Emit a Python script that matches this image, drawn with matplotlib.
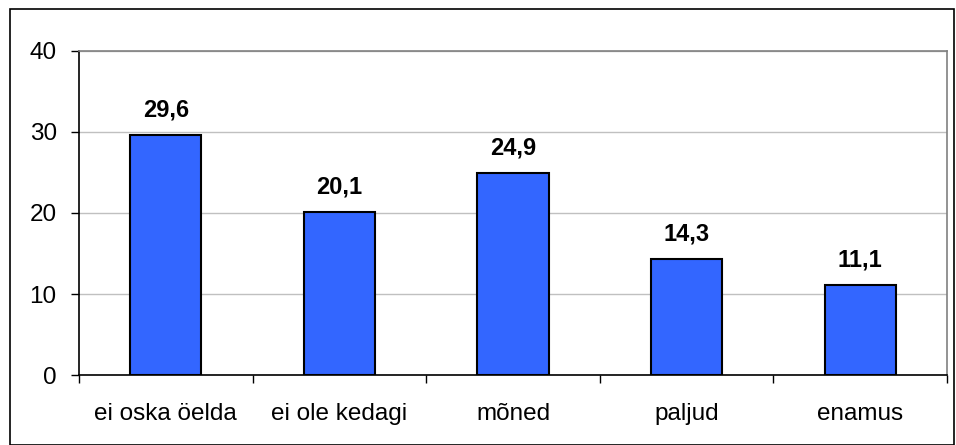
import matplotlib
matplotlib.use("Agg")
import matplotlib.pyplot as plt
from matplotlib.patches import Rectangle

categories = ["ei oska öelda", "ei ole kedagi", "mõned", "paljud", "enamus"]
values = [29.6, 20.1, 24.9, 14.3, 11.1]
value_labels = ["29,6", "20,1", "24,9", "14,3", "11,1"]
yticks = [0, 10, 20, 30, 40]

plt.rcParams['font.family'] = ['Liberation Sans', 'DejaVu Sans']

fig = plt.figure(figsize=(9.56, 4.45), dpi=100)
ax = fig.add_axes([0.0826, 0.1573, 0.9081, 0.7281])

x = list(range(len(categories)))
ax.bar(x, values, width=0.41, color="#3366FF", edgecolor="black", linewidth=1.5, zorder=3)
for xi, v, lab in zip(x, values, value_labels):
    ax.text(xi, v + 1.7, lab, ha="center", va="bottom", fontsize=17, fontweight="bold")

ax.set_xlim(-0.5, len(categories) - 0.5)
ax.set_ylim(0, 40)
ax.set_yticks(yticks)
ax.set_yticklabels([str(t) for t in yticks], fontsize=17.5)
ax.yaxis.grid(True, color="#c0c0c0", linewidth=1, zorder=0)
ax.set_axisbelow(True)

ax.set_xticks(x)
ax.set_xticklabels(categories, fontsize=17.5)
ax.tick_params(axis="x", length=0, pad=20)
ax.set_xticks([i - 0.5 for i in range(len(categories) + 1)], minor=True)
ax.tick_params(axis="x", which="minor", length=6, width=1, color="black", direction="out")
ax.tick_params(axis="y", length=6, width=1, direction="out", pad=10)

ax.spines["left"].set_color("black")
ax.spines["bottom"].set_color("black")
ax.spines["left"].set_linewidth(1.2)
ax.spines["bottom"].set_linewidth(1.2)
ax.spines["top"].set_color("#808080")
ax.spines["right"].set_color("#808080")
ax.spines["top"].set_linewidth(1.2)
ax.spines["right"].set_linewidth(1.2)

fig.patches.append(Rectangle((10/956, 0.5/445), 944/956, 436/445, transform=fig.transFigure,
                             fill=False, edgecolor="black", linewidth=1.2))

fig.savefig("out.png", dpi=100)
